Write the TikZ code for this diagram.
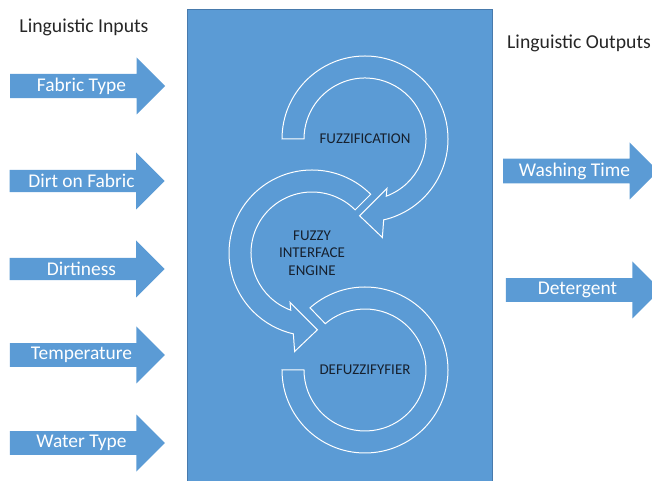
\documentclass[tikz,border=0pt]{standalone}
\usepackage{fontspec}
\setmainfont{Carlito}
\usepackage{tikz}
\usetikzlibrary{shapes.arrows}

\definecolor{panelblue}{RGB}{91,155,213}
\definecolor{paneledge}{RGB}{72,122,172}
\definecolor{inktext}{RGB}{22,32,46}

\tikzset{
  inarrow/.style={single arrow, fill=panelblue, text=white,
    minimum height=155bp, minimum width=57bp,
    single arrow head extend=14bp, single arrow head indent=0pt,
    inner sep=2bp, font=\fontsize{19.5}{21}\selectfont},
  ring/.style={draw=white, line width=1bp},
  ringtext/.style={text=inktext, align=center,
    font=\fontsize{15}{17.5}\selectfont},
  heading/.style={text=black!85, inner sep=0pt,
    font=\fontsize{19.8}{22}\selectfont}
}

\begin{document}
\begin{tikzpicture}[x=1bp,y=1bp,node distance=88bp]
  \useasboundingbox (0,0) rectangle (652,481);

  \node[fill=panelblue, draw=paneledge, minimum width=305bp,
        minimum height=482bp, anchor=north] (engine) at (339.5,471.5) {};

  \node[heading] (inputs) at (84,454) {Linguistic Inputs};
  \node[heading, anchor=west] (outputs) at (507,438) {Linguistic Outputs};

  % inputs
  \node[inarrow] (fabric) at (81.5,395) {Fabric Type};
  \node[inarrow, node distance=95bp] (dirt) [below of=fabric] {Dirt on Fabric};
  \node[inarrow] (dirtiness) [below of=dirt] {Dirtiness};
  \node[inarrow, node distance=86bp] (temp) [below of=dirtiness] {Temperature};
  \node[inarrow] (water) [below of=temp] {Water Type};

  % outputs
  \node[inarrow] (washing) at (574.5,310) {Washing Time};
  \node[inarrow, node distance=119bp] (detergent) [below of=washing, xshift=3bp] {Detergent};

  % the three stages
  \coordinate (fuzz) at (365,342);
  \coordinate (infer) at (312,228);
  \coordinate (defuzz) at (365,111);

  \draw[ring, shift={(fuzz)}] (180:83) arc[start angle=180, end angle=-77, radius=83]
    -- (-80:100) -- (-94:77) -- (-66:54) -- (-69.6:61)
    arc[start angle=-69.6, end angle=180, radius=61] -- cycle;
  \draw[ring, shift={(infer)}] (45:83) arc[start angle=45, end angle=257, radius=83]
    -- (260:100) -- (274:77) -- (246:54) -- (249.6:61)
    arc[start angle=249.6, end angle=45, radius=61] -- cycle;
  \draw[ring, shift={(defuzz)}] (180:83) arc[start angle=180, end angle=491.5, radius=83]
    -- (490.6:61) arc[start angle=490.6, end angle=180, radius=61] -- cycle;

  \node[ringtext] (fuzzlabel) at (fuzz) {FUZZIFICATION};
  \node[ringtext] (inferlabel) at (infer) {FUZZY\\INTERFACE\\ENGINE};
  \node[ringtext] (defuzzlabel) at (defuzz) {DEFUZZIFYFIER};
\end{tikzpicture}
\end{document}
